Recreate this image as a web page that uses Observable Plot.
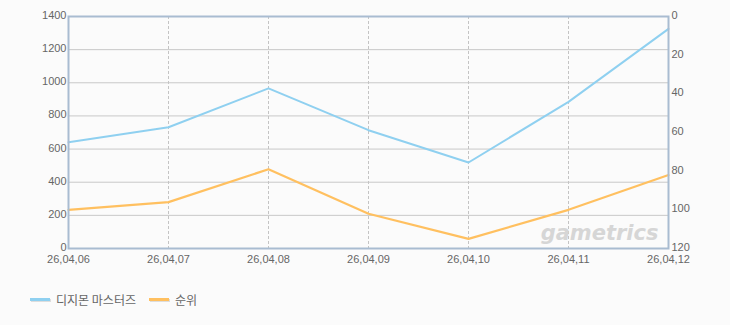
<!DOCTYPE html>
<html><head><meta charset="utf-8">
<script src="https://cdn.jsdelivr.net/npm/d3@7"></script>
<script src="https://cdn.jsdelivr.net/npm/@observablehq/plot@0.6"></script>
<style>
html,body{margin:0;padding:0;background:#fbfbfb;}
#chart{width:730px;height:325px;position:relative;}
.legend{position:absolute;left:30px;top:291px;display:flex;align-items:center;font:12px "Noto Sans CJK KR",sans-serif;color:#666;}
.legend .item{display:flex;align-items:center;margin-right:13px;}
.legend .sw{width:20px;height:3px;margin-right:6px;box-shadow:1px 1px 0 #ddd;}
</style>
</head><body>
<div id="chart"></div>
<script>
const dates = ["26,04,06","26,04,07","26,04,08","26,04,09","26,04,10","26,04,11","26,04,12"];
const players = [641, 732, 966, 714, 519, 885, 1325];
const ranks = [100, 96, 79, 102, 115, 100, 82];
const leftTicks = [0, 200, 400, 600, 800, 1000, 1200, 1400];
const rightTicks = [0, 20, 40, 60, 80, 100, 120];
const seriesNames = ["디지몬 마스터즈", "순위"];
const colors = ["#8fd0f0", "#ffc060"];

const Y_MAX = 1400, R_MAX = 120;
const rankToY = r => Y_MAX * (1 - r / R_MAX);

const bands = [0, 400, 800, 1200].map(v => ({y1: v, y2: v + 200}));
const blue = dates.map((d, i) => ({d, v: players[i]}));
const orange = dates.map((d, i) => ({d, v: rankToY(ranks[i])}));

const font = "Liberation Sans, Arial, sans-serif";
const svg = Plot.plot({
  width: 730, height: 275,
  marginTop: 16, marginBottom: 27, marginLeft: 68, marginRight: 62,
  style: {background: "transparent", fontFamily: font, fontSize: "11px", color: "#666"},
  x: {type: "point", domain: dates, padding: 0},
  y: {domain: [0, Y_MAX]},
  marks: [
    Plot.rect([{}], {x1: dates[0], x2: dates[dates.length-1], y1: 0, y2: Y_MAX, fill: "#fff"}),
    Plot.rectY(bands, {x1: dates[0], x2: dates[dates.length-1], y1: "y1", y2: "y2", fill: "#f9f9f9"}),
    Plot.ruleY(leftTicks.slice(1, -1), {stroke: "#c8c8c8", strokeWidth: 1}),
    Plot.ruleX(dates.slice(1, -1), {stroke: "#c4c4c4", strokeDasharray: "3,2"}),
    Plot.text(["gametrics"], {frameAnchor: "bottom-right", dx: -10, dy: -9, text: d => d, fontSize: 21, fontWeight: "bold", fontStyle: "italic", fill: "#d6d6d6", fontFamily: "DejaVu Sans, sans-serif"}),
    Plot.line(blue, {x: "d", y: "v", stroke: colors[0], strokeWidth: 2}),
    Plot.line(orange, {x: "d", y: "v", stroke: colors[1], strokeWidth: 2.2}),
    Plot.frame({stroke: "#a9bcd1", strokeWidth: 2}),
    Plot.axisY({anchor: "left", ticks: leftTicks, tickFormat: d => String(d), tickSize: 0, tickPadding: 2, dy: -1, fill: "#666", label: null}),
    Plot.axisY({anchor: "right", ticks: rightTicks.map(rankToY), tickFormat: v => String(Math.round(R_MAX * (1 - v / Y_MAX))), tickSize: 0, tickPadding: 3, dy: -1, fill: "#666", label: null}),
    Plot.axisX({ticks: dates, tickSize: 0, tickPadding: 7, fill: "#666", label: null})
  ]
});
const chart = document.getElementById("chart");
chart.appendChild(svg);
const leg = document.createElement("div");
leg.className = "legend";
seriesNames.forEach((n, i) => {
  const it = document.createElement("div"); it.className = "item";
  const sw = document.createElement("span"); sw.className = "sw"; sw.style.background = colors[i];
  const t = document.createElement("span"); t.textContent = n;
  it.appendChild(sw); it.appendChild(t); leg.appendChild(it);
});
chart.appendChild(leg);
</script>
</body></html>
